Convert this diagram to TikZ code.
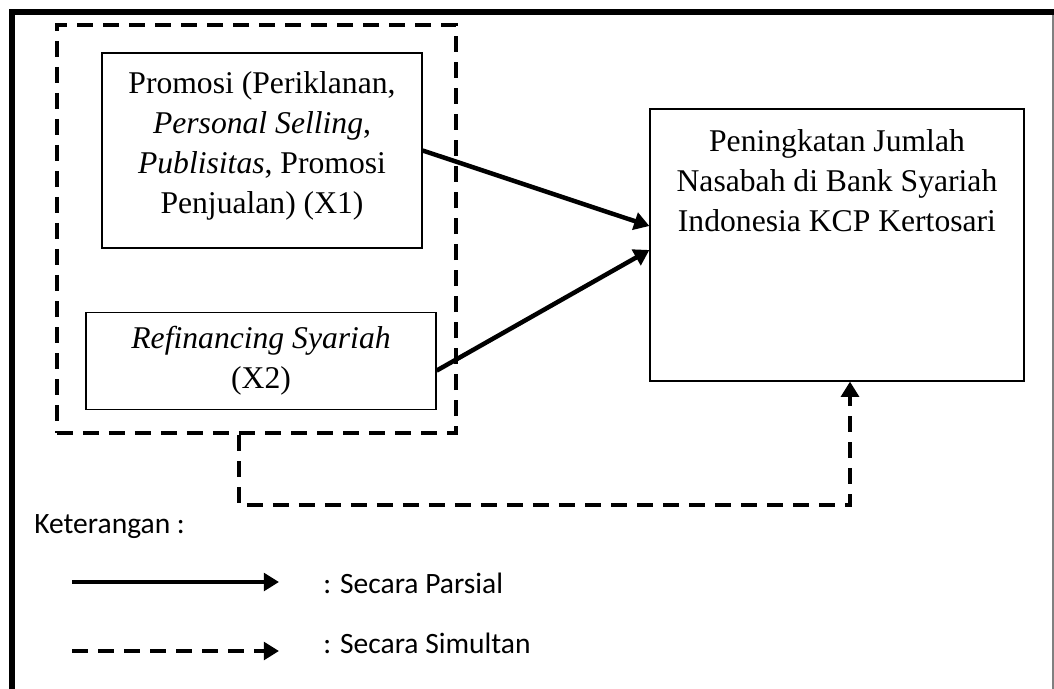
\documentclass[tikz,border=0pt]{standalone}
\usepackage{fontspec}
\setmainfont{Liberation Serif}
\newfontfamily\legendfont{Carlito}
\usepackage{tikz}
\usetikzlibrary{arrows.meta, positioning}

\tikzset{
  varbox/.style={draw, line width=0.8pt, align=center, inner sep=0pt,
    font=\fontsize{22.5}{28.5}\selectfont},
  boxtext/.style={align=center, anchor=north, inner sep=0pt,
    font=\fontsize{22.5}{28.5}\selectfont},
  groupbox/.style={draw, line width=2.8pt, dash pattern=on 0.4cm off 0.25cm, inner sep=0pt},
  partial/.style={->, line width=3.2pt},
  simul/.style={->, line width=2.8pt, dash pattern=on 0.4cm off 0.25cm},
  legendtext/.style={font=\legendfont\fontsize{21}{25}\selectfont, inner sep=0pt}
}

\begin{document}
\begin{tikzpicture}[x=0.025cm, y=-0.025cm, >={Triangle[length=0.38cm, width=0.44cm]}]
  \useasboundingbox (0,0) rectangle (1054,689);
  % frame (open at the bottom)
  \draw[line width=3.9pt] (12,689) -- (12,12) -- (1054,12);
  \draw[gray, line width=0.8pt] (1053,15) -- (1053,689);
  % variables
  \node[groupbox, minimum width=9.975cm, minimum height=10.2cm] (grp) at (256.5,229) {};
  \node[varbox, minimum width=8cm, minimum height=4.875cm,
    label={[boxtext, yshift=-0.47cm]north:Promosi (Periklanan,\\ \textit{Personal Selling},\\ \textit{Publisitas}, Promosi\\ Penjualan) (X1)}]
    (x1) at (262,150.5) {};
  \node[varbox, minimum width=8.75cm, minimum height=2.425cm] (x2) at (261,361)
    {\textit{Refinancing Syariah}\\ (X2)};
  \node[varbox, minimum width=9.35cm, minimum height=6.8cm,
    label={[boxtext, yshift=-0.52cm]north:Peningkatan Jumlah\\ Nasabah di Bank Syariah\\ Indonesia KCP Kertosari}]
    (y) at (837,245) {};
  % partial effects
  \draw[partial] (x1.east) -- ([yshift=0.475cm]y.west);
  \draw[partial] ([yshift=-0.24cm]x2.east) -- ([yshift=-0.125cm]y.west);
  % simultaneous effect
  \draw[simul] ([xshift=-0.44cm]grp.south) -- ++(0,70) -| ([xshift=0.325cm]y.south);
  % legend
  \node[legendtext, anchor=base west] (ket) at (34,533) {Keterangan :};
  \node[legendtext, anchor=base west] (parsial) at (323,593) {: Secara Parsial};
  \node[legendtext, anchor=base west] (simultan) at (323,653) {: Secara Simultan};
  \coordinate (pa) at (72,582);
  \coordinate (pb) at (279,582);
  \coordinate (sa) at (72,651);
  \coordinate (sb) at (279,651);
  \draw[partial] (pa) -- (pb);
  \draw[simul] (sa) -- (sb);
\end{tikzpicture}
\end{document}
